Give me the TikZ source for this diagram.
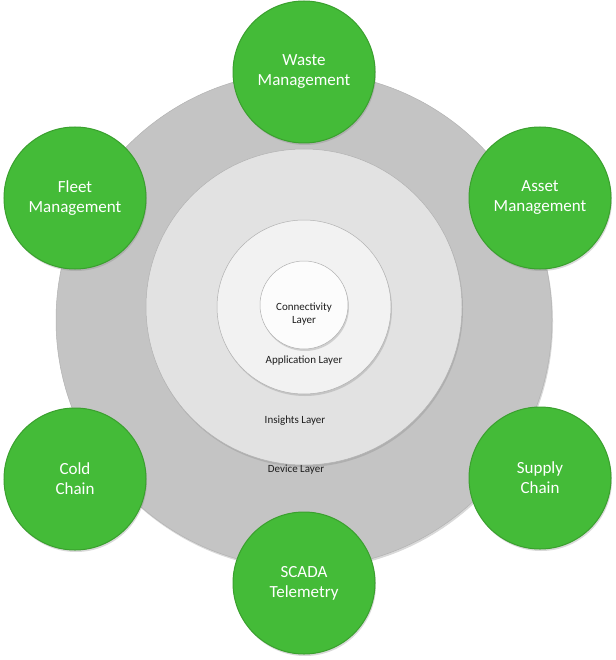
\documentclass[tikz,border=0pt]{standalone}
\usepackage{fontspec}
\setmainfont{Carlito}
\usetikzlibrary{shadows}

\definecolor{leafgreen}{RGB}{68,187,56}
\definecolor{leafedge}{RGB}{58,160,46}
\definecolor{devicegrey}{RGB}{196,196,196}
\definecolor{insightgrey}{RGB}{226,226,226}
\definecolor{appgrey}{RGB}{242,242,242}
\definecolor{conngrey}{RGB}{252,252,252}
\definecolor{labelgrey}{RGB}{30,30,30}

\begin{document}
\begin{tikzpicture}[x=1pt,y=-1pt,
                    layer node/.style={circle,draw=gray!60,line width=0.5pt,
                      drop shadow={opacity=0.3,shadow xshift=1pt,shadow yshift=-2pt}},
                    layer label/.style={font=\fontsize{11}{13}\selectfont,text=labelgrey,align=center},
                    app node/.style={circle,minimum size=142pt,fill=leafgreen,draw=leafedge,
                      line width=1pt,text=white,align=center,
                      font=\fontsize{17}{20}\selectfont,
                      drop shadow={opacity=0.3,shadow xshift=1pt,shadow yshift=-2pt}}]

  \useasboundingbox (0,0) rectangle (615,660);

  % layers, outside in
  \node[layer node,fill=devicegrey,minimum size=496pt] (device) at (304,320) {};
  \node[layer node,fill=insightgrey,minimum size=316pt] (insights) at (304,307) {};
  \node[layer node,fill=appgrey,minimum size=174pt] (application) at (304,307) {};
  \node[layer node,fill=conngrey,minimum size=88pt] (connectivity) at (304,305) {};

  \node[layer label] (conn label) at (304,314) {Connectivity\\Layer};
  \node[layer label] (app label) at (304,361) {Application Layer};
  \node[layer label] (insights label) at (295,421) {Insights Layer};
  \node[layer label] (device label) at (296,470) {Device Layer};

  % applications round the rings
  \node[app node] (waste) at (304,72) {Waste\\Management};
  \node[app node] (fleet) at (75,198) {Fleet\\Management};
  \node[app node] (asset) at (540,198) {Asset\\Management};
  \node[app node] (cold) at (75,479) {Cold\\Chain};
  \node[app node] (supply) at (540,478) {Supply\\Chain};
  \node[app node] (scada) at (304,583) {SCADA\\Telemetry};
\end{tikzpicture}
\end{document}
